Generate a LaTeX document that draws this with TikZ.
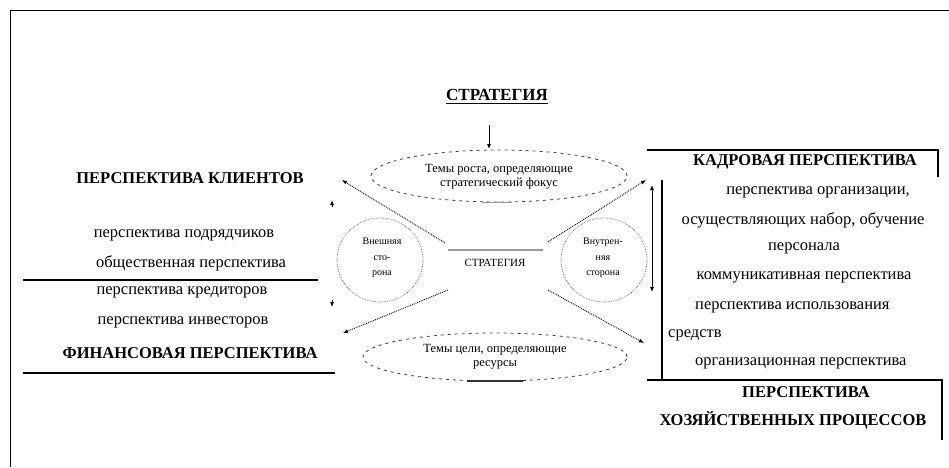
\documentclass[tikz,border=0pt]{standalone}
\usepackage{fontspec}
\setmainfont{Liberation Serif}
\usetikzlibrary{arrows.meta,shapes.geometric}
\begin{document}
\begin{tikzpicture}[x=1pt,y=-1pt,
 big/.style={font=\fontsize{16.5}{18}\selectfont\bfseries, inner sep=0pt, anchor=center},
 txt/.style={font=\fontsize{16.5}{18}\selectfont, inner sep=0pt},
 small/.style={font=\fontsize{12.5}{14}\selectfont, inner sep=0pt, align=center},
 tiny/.style={font=\fontsize{10}{15.5}\selectfont, inner sep=0pt, align=center},
 rule/.style={line width=1.2pt},
 ell/.style={draw=black!75, ellipse, dash pattern=on 3pt off 4pt, line width=0.8pt, inner sep=0pt},
 circ/.style={draw=black!60, ellipse, densely dotted, line width=0.7pt, inner sep=0pt},
 dotarrow/.style={densely dotted, line width=0.9pt, -{Latex[length=5pt,width=4pt]}},
 tip/.style={-{Latex[length=5pt,width=4pt]}, line width=0.8pt},
]
\useasboundingbox (0,0) rectangle (949,467);
\draw[line width=1pt] (10,467) -- (10,10) -- (949,10);

% title
\node[font=\fontsize{17}{19}\selectfont\bfseries, inner sep=0pt] (title) at (497,95) {СТРАТЕГИЯ};
\draw[line width=1pt] ([yshift=-3pt]title.south west) -- ([yshift=-3pt]title.south east);

% top ellipse
\node[ell, minimum width=256pt, minimum height=52pt] (topell) at (499,176) {};
\node[small] (toptext) at (499,177) {Темы роста, определяющие\\стратегический фокус};
\coordinate (arrtop) at (489,125);
\draw[tip] (arrtop) -- (489,149);
\coordinate (tg1) at (482,202); \coordinate (tg2) at (512,202);
\draw[black!40, line width=1pt] (tg1) -- (tg2);

% bottom ellipse
\node[ell, minimum width=264pt, minimum height=48pt] (botell) at (495,357) {};
\node[small] (bottext) at (495,357) {Темы цели, определяющие\\ресурсы};
\coordinate (bg1) at (467,381); \coordinate (bg2) at (523,381);
\draw[black!80, line width=1.2pt] (bg1) -- (bg2);

% circles
\node[circ, minimum width=86pt, minimum height=84pt] (lcirc) at (380,260) {};
\node[tiny] (ltext) at (382,258) {Внешняя\\сто-\\рона};
\node[circ, minimum width=86pt, minimum height=84pt] (rcirc) at (604,260) {};
\node[tiny] (rtext) at (603,258) {Внутрен-\\няя\\сторона};

% center
\coordinate (cl) at (448,250); \coordinate (cr) at (543,250);
\draw[black!40, line width=1.2pt] (cl) -- (cr);
\node[font=\fontsize{11}{13}\selectfont, inner sep=0pt] (ctext) at (495,263) {СТРАТЕГИЯ};

% dotted arrows
\coordinate (s1) at (445,243); \coordinate (e1) at (342,180);
\coordinate (s2) at (448,290); \coordinate (e2) at (343,333);
\coordinate (s3) at (548,242); \coordinate (e3) at (646,180);
\coordinate (s4) at (548,290); \coordinate (e4) at (644,343);
\draw[dotarrow] (s1) -- (e1);
\draw[dotarrow] (s2) -- (e2);
\draw[dotarrow] (s3) -- (e3);
\draw[dotarrow] (s4) -- (e4);

% small arrowheads left
\coordinate (a1) at (332,207); \coordinate (a2) at (332,200);
\coordinate (a3) at (332,300); \coordinate (a4) at (332,307);
\draw[tip] (a1) -- (a2);
\draw[tip] (a3) -- (a4);

% left side
\node[big] (clients) at (190,178) {ПЕРСПЕКТИВА КЛИЕНТОВ};
\node[txt] (l1) at (184,235) {перспектива подрядчиков};
\node[txt] (l2) at (191,263) {общественная перспектива};
\coordinate (lr1) at (23,280); \coordinate (lr2) at (318,280);
\draw[rule] (lr1) -- (lr2);
\node[txt] (l3) at (182,292) {перспектива кредиторов};
\node[txt] (l4) at (183,322) {перспектива инвесторов};
\node[big] (fin) at (190,353) {ФИНАНСОВАЯ ПЕРСПЕКТИВА};
\coordinate (lr3) at (23,373); \coordinate (lr4) at (335,373);
\draw[rule] (lr3) -- (lr4);

% right side
\coordinate (rt1) at (647,150); \coordinate (rt2) at (938,150); \coordinate (rt3) at (938,177);
\draw[rule] (rt1) -- (rt2) -- (rt3);
\coordinate (rv1) at (662,180); \coordinate (rv2) at (662,380);
\draw[rule] (rv1) -- (rv2);
\coordinate (rb1) at (647,380); \coordinate (rb2) at (942,380); \coordinate (rb3) at (942,440);
\draw[rule] (rb1) -- (rb2) -- (rb3);
\coordinate (da1) at (652,185); \coordinate (da2) at (652,292);
\draw[{Latex[length=5pt,width=4pt]}-{Latex[length=5pt,width=4pt]}, line width=0.8pt] (da1) -- (da2);

\node[big] (kadr) at (805,162) {КАДРОВАЯ ПЕРСПЕКТИВА};
\node[txt] (r1) at (818,192) {перспектива организации,};
\node[txt] (r2) at (803,220) {осуществляющих набор, обучение};
\node[txt] (r3) at (804,248) {персонала};
\node[txt] (r4) at (804,277) {коммуникативная перспектива};
\node[txt, anchor=west] (r5) at (695,307) {перспектива использования};
\node[txt, anchor=west] (r6) at (668,335) {средств};
\node[txt, anchor=west] (r7) at (695,363) {организационная перспектива};
\node[big] (proc1) at (806,392) {ПЕРСПЕКТИВА};
\node[big] (proc2) at (793,420) {ХОЗЯЙСТВЕННЫХ ПРОЦЕССОВ};
\end{tikzpicture}
\end{document}
